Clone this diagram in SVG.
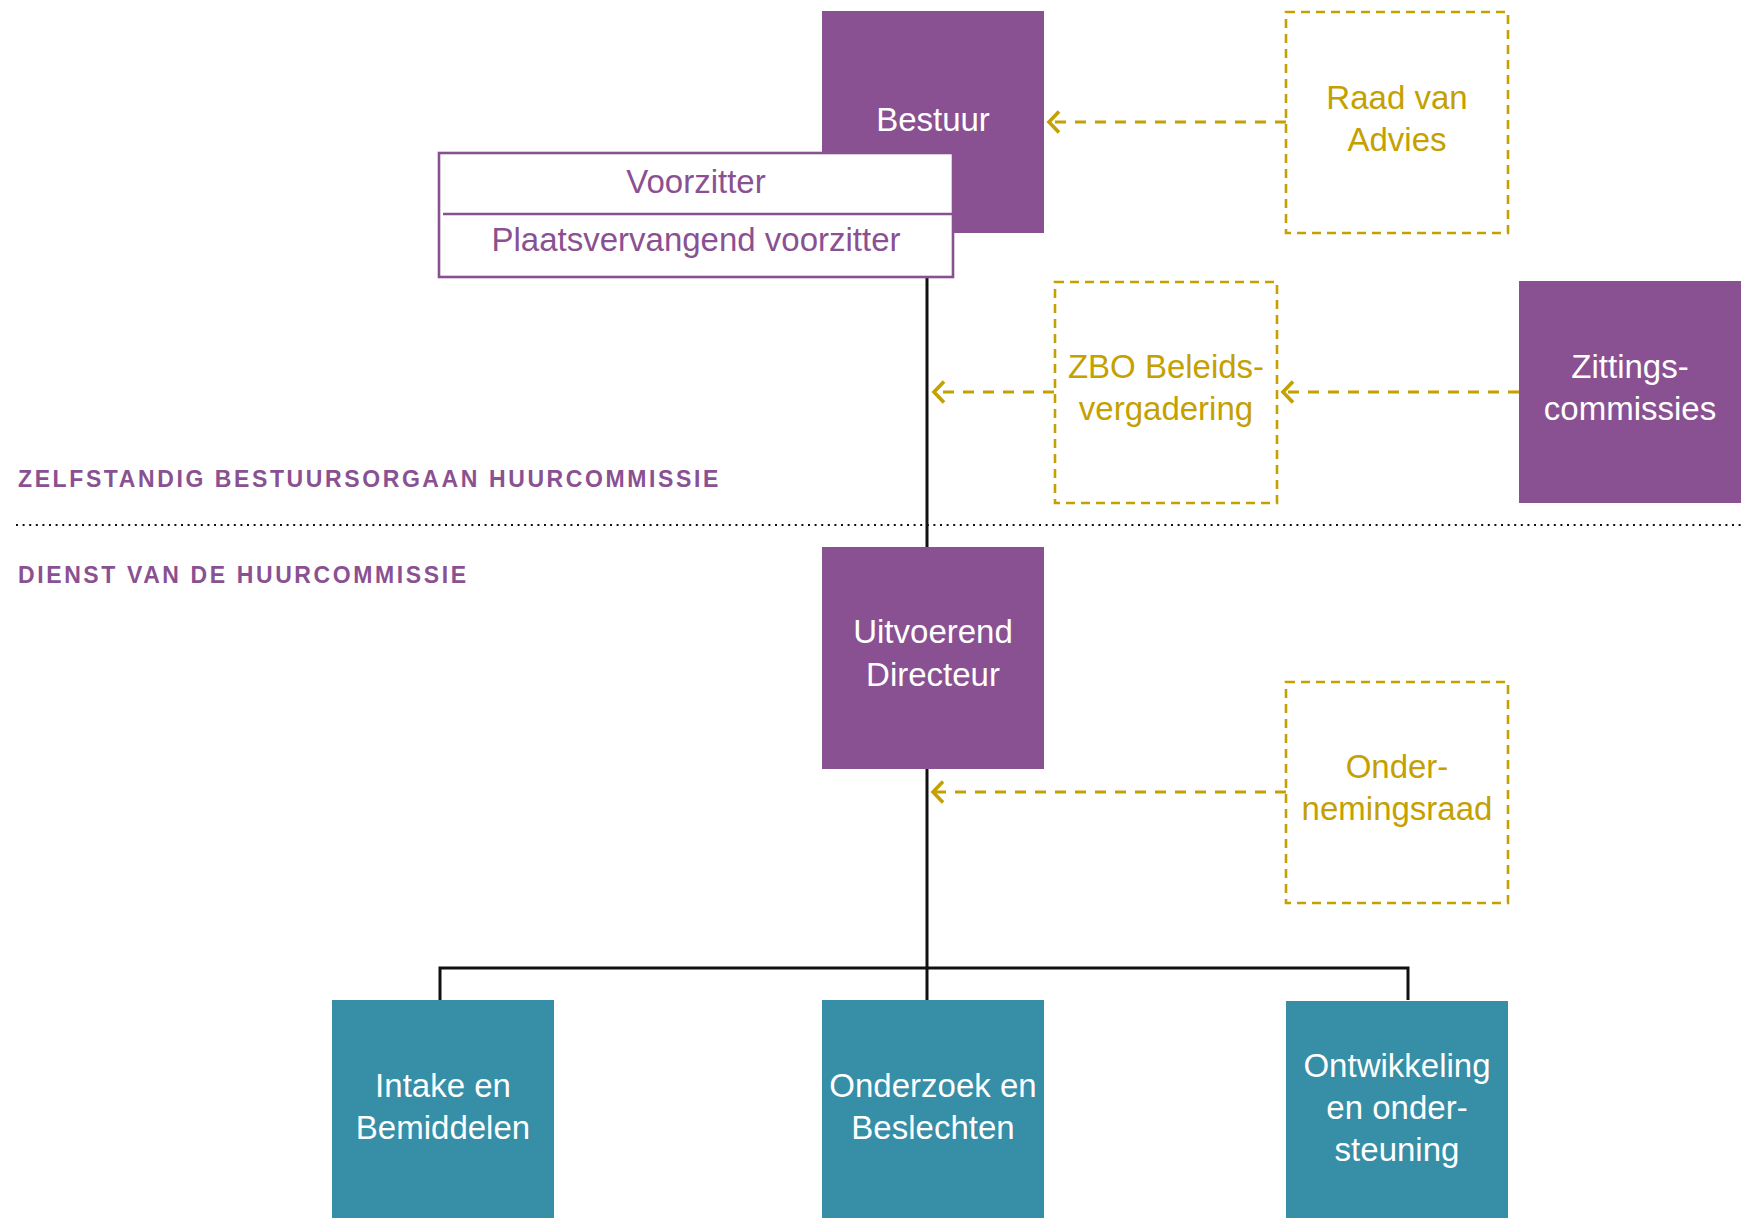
<svg xmlns="http://www.w3.org/2000/svg" width="1741" height="1218" viewBox="0 0 1741 1218">
<style>
.purple{fill:#8a5192}
.teal{fill:#368ea7}
.dbox{fill:#fff;stroke:#c4a000;stroke-width:2.6;stroke-dasharray:9 6}
.t{font-family:"Liberation Sans",Arial,sans-serif;font-size:33px;text-anchor:middle}
.w{fill:#fff}
.g{fill:#c4a000}
.p{fill:#8a5192}
.lbl{font-family:"Liberation Sans",Arial,sans-serif;font-size:23px;font-weight:bold;fill:#8a5192;letter-spacing:2.6px}
.solid{fill:none;stroke:#111;stroke-width:3}
.dash{fill:none;stroke:#c4a000;stroke-width:3;stroke-dasharray:11 9}
</style>
<defs>
<marker id="arr" viewBox="-14 -13 16 26" refX="0" refY="0" markerWidth="16" markerHeight="26" markerUnits="userSpaceOnUse" orient="auto">
<path d="M-11,-10.5 L-1,0 L-11,10.5" fill="none" stroke="#c4a000" stroke-width="3.6" stroke-dasharray="none"/>
</marker>
</defs>

<g id="connectors">
<line class="solid" x1="927" y1="277" x2="927" y2="547"/>
<line class="solid" x1="927" y1="769" x2="927" y2="1000"/>
<polyline class="solid" points="440,1000 440,968 1408,968 1408,1000"/>
<line x1="16" y1="525" x2="1741" y2="525" stroke="#111" stroke-width="2" stroke-dasharray="2 4.6"/>
<line class="dash" x1="1286" y1="122" x2="1048" y2="122" marker-end="url(#arr)"/>
<line class="dash" x1="1054" y1="392" x2="933" y2="392" marker-end="url(#arr)"/>
<line class="dash" x1="1519" y1="392" x2="1282" y2="392" marker-end="url(#arr)"/>
<line class="dash" x1="1286" y1="792" x2="932" y2="792" marker-end="url(#arr)"/>
</g>

<g id="bestuur">
<rect class="purple" x="822" y="11" width="222" height="222"/>
<text class="t w" x="933" y="131">Bestuur</text>
</g>

<g id="voorzitter">
<rect x="439" y="153" width="514" height="124" fill="#fff" stroke="#8a5192" stroke-width="2.6"/>
<line x1="443" y1="214" x2="952" y2="214" stroke="#8a5192" stroke-width="2.6"/>
<text class="t p" x="696" y="193">Voorzitter</text>
<text class="t p" x="696" y="251">Plaatsvervangend voorzitter</text>
</g>

<g id="raad-van-advies">
<rect class="dbox" x="1286" y="12" width="222" height="221"/>
<text class="t g" x="1397" y="109">Raad van</text>
<text class="t g" x="1397" y="151">Advies</text>
</g>

<g id="zbo-beleidsvergadering">
<rect class="dbox" x="1055" y="282" width="222" height="221"/>
<text class="t g" x="1166" y="378">ZBO Beleids-</text>
<text class="t g" x="1166" y="420">vergadering</text>
</g>

<g id="zittingscommissies">
<rect class="purple" x="1519" y="281" width="222" height="222"/>
<text class="t w" x="1630" y="378">Zittings-</text>
<text class="t w" x="1630" y="420">commissies</text>
</g>

<g id="labels">
<text class="lbl" x="18" y="487">ZELFSTANDIG BESTUURSORGAAN HUURCOMMISSIE</text>
<text class="lbl" x="18" y="583">DIENST VAN DE HUURCOMMISSIE</text>
</g>

<g id="uitvoerend-directeur">
<rect class="purple" x="822" y="547" width="222" height="222"/>
<text class="t w" x="933" y="643">Uitvoerend</text>
<text class="t w" x="933" y="686">Directeur</text>
</g>

<g id="ondernemingsraad">
<rect class="dbox" x="1286" y="682" width="222" height="221"/>
<text class="t g" x="1397" y="778">Onder-</text>
<text class="t g" x="1397" y="820">nemingsraad</text>
</g>

<g id="intake">
<rect class="teal" x="332" y="1000" width="222" height="218"/>
<text class="t w" x="443" y="1097">Intake en</text>
<text class="t w" x="443" y="1139">Bemiddelen</text>
</g>

<g id="onderzoek">
<rect class="teal" x="822" y="1000" width="222" height="218"/>
<text class="t w" x="933" y="1097">Onderzoek en</text>
<text class="t w" x="933" y="1139">Beslechten</text>
</g>

<g id="ontwikkeling">
<rect class="teal" x="1286" y="1001" width="222" height="217"/>
<text class="t w" x="1397" y="1077">Ontwikkeling</text>
<text class="t w" x="1397" y="1119">en onder-</text>
<text class="t w" x="1397" y="1161">steuning</text>
</g>
</svg>
